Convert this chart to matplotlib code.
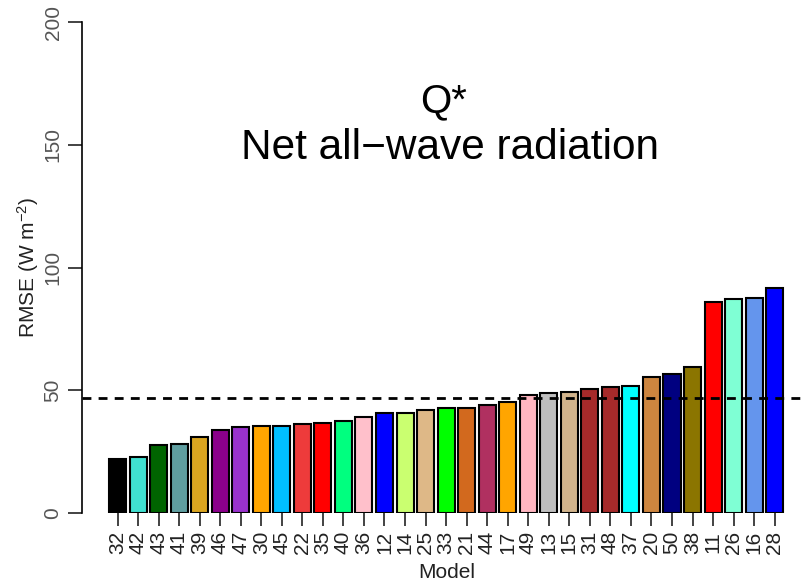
import numpy as np
import matplotlib
matplotlib.use("Agg")
from matplotlib import pyplot as plt

plt.rcParams['font.family'] = ['Liberation Sans', 'DejaVu Sans']
plt.rcParams['mathtext.default'] = 'regular'

# 模型编号（按RMSE从小到大排列）
models = ['32', '42', '43', '41', '39', '46', '47', '30', '45', '22', '35', '40',
          '36', '12', '14', '25', '33', '21', '44', '17', '49', '13', '15', '31',
          '48', '37', '20', '50', '38', '11', '26', '16', '28']
rmse = [22.1, 22.9, 27.8, 28.2, 31.0, 33.9, 34.9, 35.4, 35.4, 36.3, 36.7, 37.6,
        39.1, 40.6, 40.6, 42.0, 42.7, 42.8, 44.0, 45.1, 48.2, 48.8, 49.3, 50.6,
        51.3, 51.9, 55.4, 56.8, 59.6, 86.1, 87.2, 87.5, 91.6]
colors = ['#000000', '#40E0D0', '#006400', '#5F9EA0', '#DAA520', '#8B008B',
          '#9932CC', '#FFA500', '#00BFFF', '#EE3B3B', '#FF0000', '#00FF7F',
          '#FFC0CB', '#0000FF', '#CAFF70', '#DEB887', '#00FF00', '#D2691E',
          '#B03060', '#FFA500', '#FFB6C1', '#BEBEBE', '#D2B48C', '#A52A2A',
          '#A52A2A', '#00FFFF', '#CD853F', '#000080', '#8B7500', '#FF0000',
          '#7FFFD4', '#6495ED', '#0000FF']
mean_rmse = 47.0
yticks = [0, 50, 100, 150, 200]

fig = plt.figure(figsize=(8.03, 5.86), dpi=100)
ax = fig.add_axes([82 / 803, 1 - 513 / 586, 1 - 82 / 803, (513 - 22) / 586])

x = np.arange(len(models))
ax.bar(x, rmse, width=0.83, color=colors, edgecolor='black', linewidth=1.5)
ax.axhline(mean_rmse, color='black', linewidth=2.0, dashes=(3.2, 2.6))

ax.set_xlim(-1.73, 34.38 - 1)
ax.set_ylim(0, 200)
ax.set_yticks(yticks)
ax.set_yticklabels([str(v) for v in yticks], rotation=90, va='center', fontsize=15)
ax.set_xticks(x)
ax.set_xticklabels(models, rotation=90, fontsize=15)
ax.tick_params(axis='y', length=10, width=1.2, pad=4, color='#222222', labelcolor='#555555')
ax.tick_params(axis='x', length=9, width=1.2, pad=4, color='#222222', labelcolor='#222222')

for s in ['top', 'right', 'bottom']:
    ax.spines[s].set_visible(False)
ax.spines['left'].set_linewidth(1.2)

ax.set_ylabel('RMSE (W m$^{-2}$)', fontsize=15, labelpad=2, color='#222222')
fig.text(447 / 803, 1 - 573 / 586, 'Model', ha='center', va='center', fontsize=15, color='#222222')

fig.text(444 / 803, 1 - 101 / 586, 'Q*', ha='center', va='center', fontsize=29)
fig.text(450 / 803, 1 - 148 / 586, 'Net all\u2212wave radiation', ha='center', va='center', fontsize=30.5)

fig.savefig('out.png', dpi=100)
